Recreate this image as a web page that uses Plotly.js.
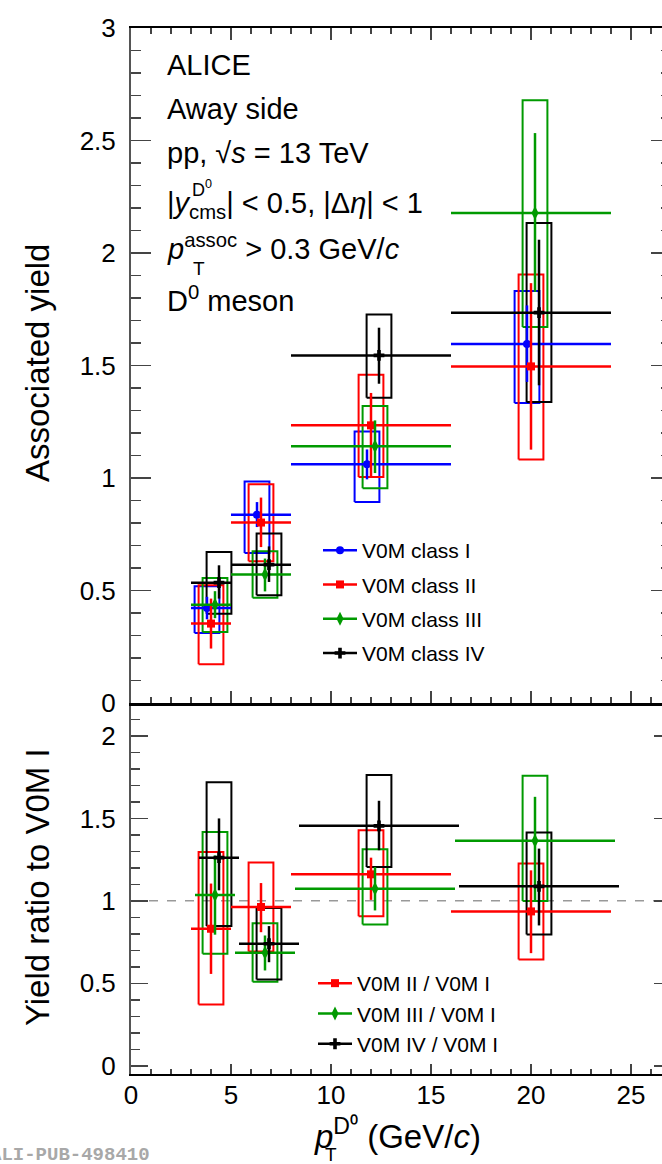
<!DOCTYPE html>
<html>
<head>
<meta charset="utf-8">
<script src="https://cdn.plot.ly/plotly-3.0.1.min.js"></script>
<style>
html,body{margin:0;padding:0;overflow:hidden;background:#fff;}
#chart{width:672px;height:1164px;}
</style>
</head>
<body>
<div id="chart"></div>
<script>
// ---------------- data ----------------
const binLo = [3, 5, 8, 16];
const binHi = [5, 8, 16, 24];

// Top panel: associated yield (away side)
const classNames = ["V0M class I", "V0M class II", "V0M class III", "V0M class IV"];
const xC1 = [3.8, 6.3, 11.8, 19.8];
const yC1 = [0.422, 0.837, 1.061, 1.596];
const statUpC1 = [0.05, 0.056, 0.066, 0.171];
const statDnC1 = [0.05, 0.055, 0.067, 0.169];
const sysUpC1 = [0.097, 0.148, 0.146, 0.235];
const sysDnC1 = [0.111, 0.170, 0.168, 0.263];

const xC2 = [4.0, 6.5, 12.0, 20.0];
const yC2 = [0.353, 0.802, 1.234, 1.496];
const statUpC2 = [0.111, 0.111, 0.144, 0.370];
const statDnC2 = [0.111, 0.109, 0.230, 0.370];
const sysUpC2 = [0.170, 0.170, 0.225, 0.409];
const sysDnC2 = [0.181, 0.172, 0.230, 0.414];

const xC3 = [4.2, 6.7, 12.2, 20.2];
const yC3 = [0.437, 0.571, 1.141, 2.178];
const statUpC3 = [0.06, 0.071, 0.115, 0.355];
const statDnC3 = [0.06, 0.075, 0.119, 0.351];
const sysUpC3 = [0.119, 0.103, 0.179, 0.501];
const sysDnC3 = [0.121, 0.103, 0.186, 0.507];

const xC4 = [4.4, 6.9, 12.4, 20.4];
const yC4 = [0.535, 0.615, 1.545, 1.735];
const statUpC4 = [0.077, 0.081, 0.123, 0.324];
const statDnC4 = [0.071, 0.077, 0.126, 0.323];
const sysUpC4 = [0.136, 0.138, 0.182, 0.398];
const sysDnC4 = [0.138, 0.136, 0.188, 0.397];

// Bottom panel: ratio to V0M class I
const ratioNames = ["V0M II / V0M I", "V0M III / V0M I", "V0M IV / V0M I"];
const xR2 = [4.0, 6.5, 12.0, 20.0];
const yR2 = [0.831, 0.963, 1.161, 0.936];
const statUpR2 = [0.274, 0.145, 0.101, 0.249];
const statDnR2 = [0.274, 0.153, 0.155, 0.253];
const sysUpR2 = [0.466, 0.269, 0.268, 0.290];
const sysDnR2 = [0.460, 0.270, 0.255, 0.292];

const xR3 = [4.2, 6.7, 12.2, 20.2];
const yR3 = [1.035, 0.685, 1.074, 1.364];
const statUpR3 = [0.24, 0.105, 0.131, 0.267];
const statDnR3 = [0.24, 0.107, 0.132, 0.361];
const sysUpR3 = [0.383, 0.180, 0.239, 0.395];
const sysDnR3 = [0.356, 0.175, 0.217, 0.365];

const xR4 = [4.4, 6.9, 12.4, 20.4];
const yR4 = [1.262, 0.740, 1.455, 1.088];
const statUpR4 = [0.238, 0.107, 0.152, 0.229];
const statDnR4 = [0.198, 0.112, 0.148, 0.237];
const sysUpR4 = [0.457, 0.216, 0.308, 0.327];
const sysDnR4 = [0.415, 0.217, 0.250, 0.292];

const xTickVals = [0, 5, 10, 15, 20, 25];

// ---------------- styling ----------------
const BLUE = "#0000ff", RED = "#ff0000", GREEN = "#009a00", BLACK = "#000000";
const BOXW = 0.62;          // half width of systematic boxes (GeV/c)
const FONT = "Liberation Sans, Arial, Helvetica, sans-serif";

function boxTrace(xs, ys, up, dn, color, xa, ya) {
  const bx = [], by = [];
  xs.forEach((x, i) => {
    const lo = ys[i] - dn[i], hi = ys[i] + up[i];
    bx.push(x - BOXW, x + BOXW, x + BOXW, x - BOXW, x - BOXW, null);
    by.push(lo, lo, hi, hi, lo, null);
  });
  return {x: bx, y: by, mode: "lines", type: "scatter", xaxis: xa, yaxis: ya,
          line: {color: color, width: 2}, showlegend: false, hoverinfo: "skip"};
}

function pointTrace(xs, ys, su, sd, exL, exR, color, symbol, size, xa, ya) {
  return {x: xs, y: ys, mode: "markers", type: "scatter", xaxis: xa, yaxis: ya,
          marker: {color: color, symbol: symbol, size: size, line: {width: 0}},
          error_y: {type: "data", symmetric: false, array: su, arrayminus: sd,
                    color: color, thickness: 2.5, width: 0},
          error_x: {type: "data", symmetric: false, array: exR, arrayminus: exL,
                    color: color, thickness: 2.5, width: 0},
          showlegend: false, hoverinfo: "skip"};
}

function legendTrace(name, color, symbol, size, legend, group) {
  return {x: [null], y: [null], name: name, mode: "lines+markers", type: "scatter",
          xaxis: legend === "legend" ? "x2" : "x", yaxis: legend === "legend" ? "y2" : "y",
          line: {color: color, width: 2.5},
          marker: {color: color, symbol: symbol, size: size},
          legend: legend, legendgroup: group, showlegend: true};
}

// horizontal extents: top panel uses bin edges, bottom panel centred on the point
const topXL = xs => xs.map((x, i) => x - binLo[i]);
const topXR = xs => xs.map((x, i) => binHi[i] - x);
const botXH = binLo.map((lo, i) => (binHi[i] - lo) / 2);

const series = [
  {x: xC1, y: yC1, su: statUpC1, sd: statDnC1, yu: sysUpC1, yd: sysDnC1, c: BLUE, s: "circle", z: 8},
  {x: xC2, y: yC2, su: statUpC2, sd: statDnC2, yu: sysUpC2, yd: sysDnC2, c: RED, s: "square", z: 8},
  {x: xC3, y: yC3, su: statUpC3, sd: statDnC3, yu: sysUpC3, yd: sysDnC3, c: GREEN, s: "diamond-tall", z: 10},
  {x: xC4, y: yC4, su: statUpC4, sd: statDnC4, yu: sysUpC4, yd: sysDnC4, c: BLACK, s: "cross", z: 9}
];
const ratios = [
  {x: xR2, y: yR2, su: statUpR2, sd: statDnR2, yu: sysUpR2, yd: sysDnR2, c: RED, s: "square", z: 8},
  {x: xR3, y: yR3, su: statUpR3, sd: statDnR3, yu: sysUpR3, yd: sysDnR3, c: GREEN, s: "diamond-tall", z: 10},
  {x: xR4, y: yR4, su: statUpR4, sd: statDnR4, yu: sysUpR4, yd: sysDnR4, c: BLACK, s: "cross", z: 9}
];

const traces = [];
series.forEach(d => traces.push(boxTrace(d.x, d.y, d.yu, d.yd, d.c, "x2", "y2")));
series.forEach(d => traces.push(pointTrace(d.x, d.y, d.su, d.sd, topXL(d.x), topXR(d.x), d.c, d.s, d.z, "x2", "y2")));
ratios.forEach(d => traces.push(boxTrace(d.x, d.y, d.yu, d.yd, d.c, "x", "y")));
ratios.forEach(d => traces.push(pointTrace(d.x, d.y, d.su, d.sd, botXH, botXH, d.c, d.s, d.z, "x", "y")));
series.forEach((d, i) => traces.push(legendTrace(classNames[i], d.c, d.s, d.z, "legend", "c" + i)));
ratios.forEach((d, i) => traces.push(legendTrace(ratioNames[i], d.c, d.s, d.z, "legend2", "r" + i)));

// ---------------- layout ----------------
const L = 131, R = 1, T = 28, B = 90, W = 672, H = 1164;
const PW = W - L - R, PH = H - T - B;
const X = px => (px - L) / PW;
const Y = py => (H - B - py) / PH;
const split = 371 / PH;

const axCommon = {
  showgrid: false, zeroline: false, showline: true, ticks: "inside",
  tickcolor: "#444", tickwidth: 1.5,
  tickfont: {family: FONT, size: 26, color: "#000"}
};

function ann(text, px, py, size, opts) {
  return Object.assign({text: text, x: X(px), y: Y(py), xref: "paper", yref: "paper",
    xanchor: "left", yanchor: "middle", showarrow: false,
    font: {family: FONT, size: size, color: "#000"}}, opts || {});
}

const annotations = [
  ann("ALICE", 165, 65, 29),
  ann("Away side", 165, 109, 29),
  ann("pp, √<i>s</i> = 13 TeV", 165, 153, 29),
  ann("|<i>y</i><sub>cms</sub>| &lt; 0.5, |Δ<i>η</i>| &lt; 1", 165, 205, 29),
  ann("D<sup>0</sup>", 190, 189, 18),
  ann("<i>p</i><sup>assoc</sup> &gt; 0.3 GeV/<i>c</i>", 165, 247, 29),
  ann("T", 191, 268, 19),
  ann("D<sup>0</sup> meson", 165, 299, 29),
  ann("<i>p</i><sup>D⁰</sup> (GeV/<i>c</i>)", 312, 1134, 33),
  ann("T", 323, 1154, 19),
  ann("Associated yield", 37, 363, 33, {xanchor: "center", yanchor: "middle", textangle: -90}),
  ann("Yield ratio to V0M I", 37, 887, 33, {xanchor: "center", yanchor: "middle", textangle: -90}),
  ann("ALI-PUB-498410", 152, 1155, 19, {xanchor: "right",
      font: {family: "Liberation Mono, Courier New, monospace", size: 19, color: "#a8a8a8", weight: "bold"}})
];

const layout = {
  width: W, height: H,
  margin: {l: L, r: R, t: T, b: B, pad: 0},
  paper_bgcolor: "#fff", plot_bgcolor: "rgba(0,0,0,0)",
  font: {family: FONT, color: "#000"},
  xaxis: Object.assign({}, axCommon, {
    domain: [0, 1], anchor: "y", range: [0, 27],
    tickvals: xTickVals, ticklen: 10, linecolor: "#000", linewidth: 2, mirror: false,
    ticklabelstandoff: -3,
    minor: {ticks: "inside", dtick: 1, ticklen: 5, tickcolor: "#444", tickwidth: 1.5}
  }),
  xaxis2: Object.assign({}, axCommon, {
    domain: [0, 1], anchor: "y2", matches: "x", range: [0, 27],
    tickvals: xTickVals, showticklabels: false, ticklen: 12, linecolor: "#000", linewidth: 2.5,
    mirror: "ticks",
    minor: {ticks: "inside", dtick: 1, ticklen: 6, tickcolor: "#444", tickwidth: 1.5}
  }),
  yaxis: Object.assign({}, axCommon, {
    domain: [0, split], anchor: "x", range: [-0.05, 2.2],
    dtick: 0.5, tick0: 0, ticklen: 17, linecolor: "#555", linewidth: 2, mirror: "ticks",
    ticklabelstandoff: 8,
    minor: {ticks: "inside", dtick: 0.1, ticklen: 8.5, tickcolor: "#444", tickwidth: 1.5}
  }),
  yaxis2: Object.assign({}, axCommon, {
    domain: [split, 1], anchor: "x2", range: [0, 3],
    dtick: 0.5, tick0: 0, ticklen: 20, linecolor: "#555", linewidth: 2, mirror: "ticks",
    ticklabelstandoff: 8,
    minor: {ticks: "inside", dtick: 0.1, ticklen: 10, tickcolor: "#444", tickwidth: 1.5}
  }),
  legend: {
    x: X(318), y: Y(530), xanchor: "left", yanchor: "top",
    bgcolor: "rgba(0,0,0,0)", borderwidth: 0, traceorder: "grouped", tracegroupgap: 4,
    itemwidth: 34, font: {family: FONT, size: 21, color: "#000"}
  },
  legend2: {
    x: X(313), y: Y(963), xanchor: "left", yanchor: "top",
    bgcolor: "rgba(0,0,0,0)", borderwidth: 0, traceorder: "grouped", tracegroupgap: 0,
    itemwidth: 34, font: {family: FONT, size: 21, color: "#000"}
  },
  shapes: [
    {type: "line", xref: "x domain", yref: "y", x0: 0, x1: 1, y0: 1, y1: 1,
     line: {color: "#999", width: 1.5, dash: "dash"}, layer: "below"}
  ],
  annotations: annotations,
  showlegend: true
};

Plotly.newPlot("chart", traces, layout, {displayModeBar: false, staticPlot: true});
</script>
</body>
</html>
